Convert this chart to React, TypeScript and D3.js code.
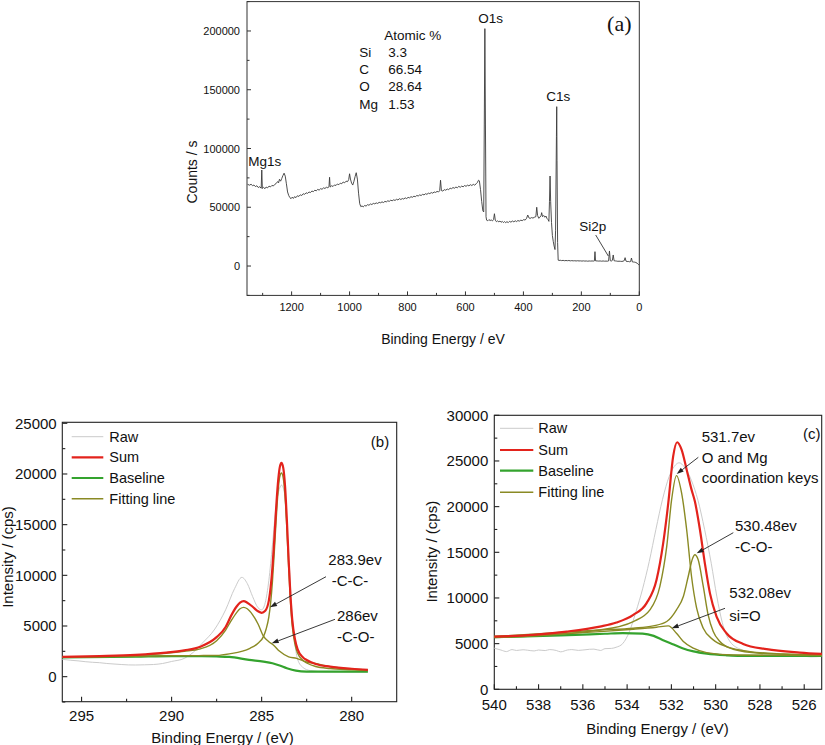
import React from 'react';
import * as d3 from 'd3';

type P = [number, number];

// ---------- Panel (a): survey spectrum ----------
const surveyXTicks = [1200, 1000, 800, 600, 400, 200, 0];
const surveyXMinor = [1300, 1100, 900, 700, 500, 300, 100];
const surveyYTicks = [0, 50000, 100000, 150000, 200000];
const surveyYMinor = [-25000, 25000, 75000, 125000, 175000, 225000];
const atomicElements = ['Si', 'C', 'O', 'Mg'];
const atomicValues = ['3.3', '66.54', '28.64', '1.53'];

const survey: P[] = [
  [1352, 69500], [1345, 68800], [1340, 69600], [1335, 68400], [1330, 68900], [1325, 67600], [1320, 68300],
  [1315, 66800], [1310, 67500], [1305, 66200], [1303, 81700], [1301, 66000], [1297, 66900], [1292, 65800],
  [1288, 67200], [1283, 66500], [1278, 68000], [1273, 67300], [1268, 68600], [1263, 68100], [1258, 69500],
  [1253, 70300], [1248, 71900], [1245, 70800], [1242, 73800], [1238, 72200], [1234, 74500], [1230, 77000],
  [1226, 79000], [1222, 76500], [1218, 70000], [1214, 63000], [1210, 60000], [1206, 58200], [1202, 57300],
  [1198, 58600], [1194, 57500], [1190, 59000], [1185, 58200], [1180, 59800], [1175, 59200], [1170, 60600],
  [1165, 60000], [1160, 61500], [1155, 61000], [1150, 62300], [1145, 61800], [1140, 63000], [1135, 62500],
  [1130, 63800], [1125, 63300], [1120, 64500], [1115, 64000], [1110, 65200], [1105, 64600], [1100, 65800],
  [1095, 65300], [1090, 66500], [1085, 66000], [1080, 67000], [1075, 66600], [1071, 67500], [1069, 75500],
  [1067, 67200], [1062, 68300], [1057, 67700], [1052, 69000], [1047, 68500], [1042, 69800], [1037, 69200],
  [1032, 70500], [1027, 70000], [1022, 71500], [1017, 70800], [1012, 72200], [1007, 71800], [1003, 73500],
  [1000, 78500], [997, 74000], [993, 70500], [989, 68900], [985, 72000], [981, 76000], [977, 79400],
  [973, 74000], [969, 62000], [965, 53000], [961, 50500], [957, 51200], [953, 50300], [948, 51500],
  [943, 51000], [938, 52200], [933, 51700], [928, 52800], [923, 52300], [918, 53300], [913, 52900],
  [908, 53700], [903, 53200], [898, 54200], [893, 53800], [888, 54600], [883, 54000], [878, 55000],
  [873, 54600], [868, 55500], [863, 55000], [858, 56000], [853, 55500], [848, 56300], [843, 55800],
  [838, 56800], [833, 56200], [828, 57300], [823, 56600], [818, 57400], [813, 57000], [808, 58000],
  [803, 57400], [798, 58400], [793, 58000], [788, 59000], [783, 58500], [778, 59400], [773, 59000],
  [768, 60000], [763, 59600], [758, 60500], [753, 60000], [748, 61000], [743, 60500], [738, 61500],
  [733, 61000], [728, 62000], [723, 61600], [718, 62500], [713, 62000], [708, 63000], [703, 62600],
  [698, 63500], [693, 63000], [689, 64000], [686, 73000], [683, 64200], [678, 63800], [673, 65000],
  [668, 64500], [663, 65500], [658, 65000], [653, 66200], [648, 65800], [643, 66800], [638, 66200],
  [633, 67200], [628, 66600], [623, 67800], [618, 67000], [613, 68000], [608, 67400], [603, 68500],
  [598, 67800], [593, 68800], [588, 68200], [583, 69200], [578, 68500], [573, 69500], [568, 68800],
  [563, 70000], [559, 71000], [555, 73000], [552, 72500], [548, 65000], [544, 55000], [540, 47000],
  [537, 46000], [535, 120000], [533, 202000], [531, 120000], [529, 42000], [527, 39000], [523, 38500],
  [519, 39500], [515, 38700], [511, 39200], [507, 38400], [503, 39500], [500, 44500], [497, 39000],
  [493, 37700], [489, 38500], [485, 37500], [481, 38300], [477, 37200], [473, 38000], [469, 37000],
  [465, 37800], [461, 36900], [457, 37700], [452, 37000], [448, 38000], [443, 37300], [438, 38300],
  [433, 37600], [428, 38500], [424, 37800], [419, 38700], [414, 38200], [409, 39000], [404, 38600],
  [399, 39500], [394, 39100], [389, 40600], [385, 43400], [381, 41000], [377, 40500], [372, 41200],
  [367, 40800], [362, 41500], [357, 42000], [354, 50000], [351, 43000], [347, 40600], [343, 41500],
  [339, 43000], [337, 45400], [334, 42000], [330, 43000], [326, 41500], [322, 42500], [319, 40600],
  [315, 39500], [312, 38000], [310, 55000], [308, 76600], [306, 55000], [303, 37000], [300, 26000],
  [297, 21000], [294, 17000], [291, 14000], [289, 30000], [286, 110000], [285, 135600], [284, 90000],
  [282, 20000], [280, 5000], [277, 4700], [273, 4900], [268, 4600], [263, 4800], [258, 4500],
  [253, 4700], [248, 4500], [243, 4700], [238, 4400], [233, 4600], [228, 4400], [223, 4500],
  [218, 4300], [213, 4500], [208, 4300], [203, 4400], [198, 4200], [193, 4400], [188, 4200],
  [183, 4300], [178, 4100], [173, 4300], [168, 4200], [163, 4300], [158, 4200], [155, 4400],
  [153, 12200], [151, 4400], [145, 4300], [140, 4200], [135, 4300], [130, 4100], [125, 4300],
  [120, 4100], [115, 4200], [110, 4100], [106, 4300], [103, 12800], [100, 4500], [97, 4200],
  [93, 4800], [90, 9400], [87, 4500], [82, 4300], [78, 4200], [74, 4000], [70, 4100], [65, 4000],
  [60, 3900], [56, 4100], [52, 4600], [49, 7100], [46, 4200], [42, 3800], [38, 3900], [34, 3600],
  [30, 3800], [27, 6800], [24, 3500], [20, 3400], [16, 3300], [12, 3000], [8, 2500], [4, 1500], [1, 850],
];

// ---------- Panel (b): C1s ----------
const c1sXTicks = [295, 290, 285, 280];
const c1sXMinor = [292.5, 287.5, 282.5];
const c1sYTicks = [0, 5000, 10000, 15000, 20000, 25000];
const c1sYMinor = [-2500, 2500, 7500, 12500, 17500, 22500];
const legendNames = ['Raw', 'Sum', 'Baseline', 'Fitting line'];

const c1sRaw: P[] = [
  [296.07, 1710], [295.6, 1620], [295.2, 1560], [294.8, 1480], [294.4, 1420], [294.0, 1380], [293.6, 1300],
  [293.2, 1250], [292.8, 1200], [292.4, 1160], [292.0, 1150], [291.5, 1170], [291.0, 1200], [290.5, 1300],
  [290.0, 1500], [289.3, 1800], [288.8, 2400], [288.3, 3300], [287.6, 4700], [287.0, 6600], [286.5, 8700],
  [286.1, 9800], [285.8, 9200], [285.5, 7900], [285.2, 6800], [285.0, 6600], [284.8, 7300], [284.6, 9500],
  [284.4, 13000], [284.2, 16800], [284.0, 18600], [283.9, 18900], [283.75, 18300], [283.6, 15000],
  [283.45, 10500], [283.3, 6000], [283.15, 3200], [283.0, 1700], [282.7, 900], [282.3, 600], [281.5, 480],
  [280.0, 460], [279.1, 470],
];
const c1sSum: P[] = [
  [296.07, 1950], [294.0, 2030], [292.0, 2150], [290.3, 2370], [289.3, 2600], [288.4, 2960], [287.5, 3900],
  [287.0, 4900], [286.7, 6000], [286.4, 6900], [286.2, 7300], [286.0, 7450], [285.8, 7300], [285.5, 6900],
  [285.2, 6450], [285.0, 6300], [284.8, 6500], [284.6, 7500], [284.5, 8800], [284.4, 10800], [284.3, 13500],
  [284.2, 16500], [284.1, 19000], [284.0, 20600], [283.9, 21100], [283.8, 20600], [283.7, 18800],
  [283.6, 15500], [283.5, 11500], [283.4, 8000], [283.3, 5600], [283.15, 3700], [283.0, 2700], [282.7, 1900],
  [282.5, 1650], [282.0, 1250], [281.2, 990], [280.0, 780], [279.1, 680],
];
const c1sBaseline: P[] = [
  [296.07, 1900], [292.0, 1980], [290.0, 2030], [288.5, 2020], [287.5, 1990], [286.8, 1950], [285.7, 1650],
  [284.9, 1480], [284.4, 1320], [284.0, 1100], [283.6, 830], [283.1, 590], [282.5, 500], [281.0, 490],
  [279.1, 490],
];
const c1sFit286: P[] = [
  [296.07, 1900], [294.0, 1980], [292.0, 2100], [290.3, 2300], [289.3, 2500], [288.4, 2750], [287.5, 3550],
  [287.0, 4600], [286.7, 5500], [286.4, 6300], [286.2, 6700], [286.0, 6840], [285.8, 6700], [285.5, 6100],
  [285.2, 5200], [284.9, 4000], [284.6, 3450], [284.35, 3130], [284.0, 2500], [283.5, 1950], [283.06, 1810],
  [282.5, 1450], [282.1, 1320], [281.2, 990], [280.0, 760], [279.1, 660],
];
const c1sFit2839: P[] = [
  [296.07, 1900], [292.0, 2010], [290.0, 2060], [288.5, 2080], [287.5, 2100], [286.8, 2250], [285.65, 2800],
  [285.2, 3300], [284.9, 3950], [284.75, 4700], [284.6, 5900], [284.5, 7300], [284.4, 9400], [284.3, 12200],
  [284.2, 15300], [284.1, 18000], [284.0, 19700], [283.9, 20100], [283.8, 19600], [283.7, 17800],
  [283.6, 14600], [283.5, 10800], [283.4, 7400], [283.3, 5000], [283.15, 3200], [283.0, 2300], [282.7, 1600],
  [282.5, 1350], [282.0, 1000], [281.2, 800], [280.0, 680], [279.1, 600],
];

// ---------- Panel (c): O1s ----------
const o1sXTicks = [540, 538, 536, 534, 532, 530, 528, 526];
const o1sXMinor = [539, 537, 535, 533, 531, 529, 527];
const o1sYTicks = [0, 5000, 10000, 15000, 20000, 25000, 30000];
const o1sYMinor = [2500, 7500, 12500, 17500, 22500, 27500];

const o1sRaw: P[] = [
  [540.0, 4500], [539.7, 4300], [539.45, 4130], [539.2, 4350], [539.0, 4250], [538.7, 4330], [538.5, 4280],
  [538.2, 4200], [538.0, 4300], [537.7, 4240], [537.5, 4350], [537.2, 4250], [537.0, 4100], [536.7, 4300],
  [536.5, 4350], [536.2, 4260], [536.0, 4300], [535.7, 4380], [535.5, 4400], [535.2, 4250], [535.0, 4450],
  [534.7, 4480], [534.5, 4600], [534.2, 5000], [533.9, 6300], [533.6, 8500], [533.3, 11000], [533.0, 14000],
  [532.7, 17500], [532.4, 20800], [532.1, 23300], [531.8, 24600], [531.65, 24800], [531.4, 24300],
  [531.1, 22900], [530.8, 20700], [530.5, 17500], [530.2, 13800], [529.95, 10200], [529.7, 7300],
  [529.4, 5400], [528.9, 4400], [528.2, 4000], [527.0, 3800], [526.2, 3680], [525.7, 3550], [525.2, 3600],
];
const o1sSum: P[] = [
  [540.0, 5775], [538.24, 5960], [536.73, 6320], [535.23, 6870], [534.48, 7310], [533.72, 8150],
  [533.12, 9430], [532.67, 11990], [532.37, 16000], [532.14, 20400], [531.92, 25500], [531.74, 27050],
  [531.54, 26240], [531.31, 24050], [531.09, 21860], [530.94, 20580], [530.71, 17470], [530.49, 13820],
  [530.26, 10530], [529.96, 7970], [529.51, 6140], [528.76, 4970], [527.7, 4390], [526.2, 4020],
  [525.2, 3870],
];
const o1sBaseline: P[] = [
  [540.0, 5700], [537.0, 5900], [535.0, 6080], [534.2, 6150], [533.3, 6100], [532.8, 5850], [532.4, 5400],
  [531.9, 4900], [531.5, 4500], [531.0, 4150], [530.4, 3900], [529.5, 3720], [528.9, 3660], [525.2, 3650],
];
const o1sFit5317: P[] = [
  [540.0, 5665], [535.23, 6500], [533.72, 7420], [532.97, 8700], [532.52, 11260], [532.21, 15640],
  [531.99, 20760], [531.77, 23400], [531.54, 21500], [531.31, 17470], [531.09, 12350], [530.86, 8880],
  [530.56, 6690], [530.11, 5410], [529.51, 4680], [528.45, 4130], [526.95, 3870], [525.2, 3760],
];
const o1sFit53048: P[] = [
  [540.0, 5775], [535.23, 6500], [533.72, 6690], [532.82, 6940], [532.21, 7420], [531.77, 8700],
  [531.46, 10160], [531.24, 12350], [531.04, 14360], [530.94, 14730], [530.79, 14180], [530.56, 11260],
  [530.34, 8150], [530.11, 6320], [529.81, 5230], [529.21, 4390], [528.0, 3950], [525.2, 3730],
];
const o1sFit53208: P[] = [
  [540.0, 5775], [535.23, 6320], [533.72, 6580], [532.67, 6800], [532.14, 6940], [531.77, 6140],
  [531.46, 5230], [531.01, 4500], [530.41, 4020], [529.21, 3760], [525.2, 3690],
];

// ---------- styles ----------
const SANS = 'Liberation Sans, Arial, Helvetica, sans-serif';
const SERIF = 'Liberation Serif, Times New Roman, serif';
const COL = { raw: '#cbcbcb', sum: '#e3231c', base: '#34a32e', fit: '#8a8a24' };

interface FrameProps {
  x: d3.ScaleLinear<number, number>;
  y: d3.ScaleLinear<number, number>;
  xMajor: number[]; xMinor: number[]; yMajor: number[]; yMinor: number[];
  fs: number; xLabelY: number; yLabelX: number; stroke: string; sw: number;
  majorLen: number; minorLen: number;
}

function Frame(p: FrameProps) {
  const [x0, x1] = p.x.range();
  const [yb, yt] = p.y.range();
  const fmt = d3.format('d');
  return (
    <g>
      <rect x={x0} y={yt} width={x1 - x0} height={yb - yt} fill="none" stroke={p.stroke} strokeWidth={p.sw} />
      {p.xMajor.map((t) => (
        <line key={'xm' + t} x1={p.x(t)} x2={p.x(t)} y1={yb} y2={yb - p.majorLen} stroke={p.stroke} strokeWidth={p.sw} />
      ))}
      {p.xMinor.map((t) => (
        <line key={'xn' + t} x1={p.x(t)} x2={p.x(t)} y1={yb} y2={yb - p.minorLen} stroke={p.stroke} strokeWidth={p.sw} />
      ))}
      {p.yMajor.map((t) => (
        <line key={'ym' + t} x1={x0} x2={x0 + p.majorLen} y1={p.y(t)} y2={p.y(t)} stroke={p.stroke} strokeWidth={p.sw} />
      ))}
      {p.yMinor.map((t) => (
        <line key={'yn' + t} x1={x0} x2={x0 + p.minorLen} y1={p.y(t)} y2={p.y(t)} stroke={p.stroke} strokeWidth={p.sw} />
      ))}
      {p.xMajor.map((t) => (
        <text key={'xl' + t} x={p.x(t)} y={p.xLabelY} textAnchor="middle" dominantBaseline="central"
          fontSize={p.fs} fontFamily={SANS} fill="#111">{fmt(t)}</text>
      ))}
      {p.yMajor.map((t) => (
        <text key={'yl' + t} x={p.yLabelX} y={p.y(t)} textAnchor="end" dominantBaseline="central"
          fontSize={p.fs} fontFamily={SANS} fill="#111">{fmt(t)}</text>
      ))}
    </g>
  );
}

function Arrow({ x1, y1, x2, y2 }: { x1: number; y1: number; x2: number; y2: number }) {
  const ang = Math.atan2(y2 - y1, x2 - x1);
  const L = 7, W = 2.4;
  const bx = x2 - L * Math.cos(ang), by = y2 - L * Math.sin(ang);
  const px = -Math.sin(ang) * W, py = Math.cos(ang) * W;
  return (
    <g>
      <line x1={x1} y1={y1} x2={bx} y2={by} stroke="#222" strokeWidth={0.9} />
      <path d={`M${x2},${y2}L${bx + px},${by + py}L${bx - px},${by - py}Z`} fill="#222" />
    </g>
  );
}

function Legend({ x1, x2, tx, ys, fs }: { x1: number; x2: number; tx: number; ys: number[]; fs: number }) {
  const cols = [COL.raw, COL.sum, COL.base, COL.fit];
  const widths = [1, 2.2, 2.2, 1.4];
  return (
    <g>
      {legendNames.map((n, i) => (
        <g key={n}>
          <line x1={x1} x2={x2} y1={ys[i]} y2={ys[i]} stroke={cols[i]} strokeWidth={widths[i]} />
          <text x={tx} y={ys[i]} dominantBaseline="central" fontSize={fs} fontFamily={SANS} fill="#111">{n}</text>
        </g>
      ))}
    </g>
  );
}

export default function App() {
  // Panel (a)
  const xa = d3.scaleLinear().domain([1354, 0]).range([247, 639.3]);
  const ya = d3.scaleLinear().domain([-25000, 225000]).range([295.4, 1.6]);
  const lineA = d3.line<P>().x((d) => xa(d[0])).y((d) => ya(d[1]));

  // Panel (b)
  const xb = d3.scaleLinear().domain([296.07, 277.5]).range([62.3, 396.7]);
  const yb = d3.scaleLinear().domain([-2470, 25100]).range([701.7, 422.3]);
  const lineB = d3.line<P>().x((d) => xb(d[0])).y((d) => yb(d[1])).curve(d3.curveMonotoneX);

  // Panel (c)
  const xc = d3.scaleLinear().domain([540, 525.21]).range([494.3, 821.7]);
  const yc = d3.scaleLinear().domain([0, 30000]).range([689.3, 415.3]);
  const lineC = d3.line<P>().x((d) => xc(d[0])).y((d) => yc(d[1])).curve(d3.curveMonotoneX);

  return (
    <svg width={825} height={745} style={{ position: 'absolute', left: 0, top: 0, background: '#fff' }}>
      {/* ---------- (a) ---------- */}
      <Frame x={xa} y={ya} xMajor={surveyXTicks} xMinor={surveyXMinor} yMajor={surveyYTicks} yMinor={surveyYMinor}
        fs={11} xLabelY={307} yLabelX={240} stroke="#333" sw={1} majorLen={4} minorLen={2.5} />
      <path d={lineA(survey) || ''} fill="none" stroke="#3a3a3a" strokeWidth={0.9} strokeLinejoin="round" />
      <text x={192} y={172} transform="rotate(-90 192 172)" textAnchor="middle" dominantBaseline="central"
        fontSize={14} fontFamily={SANS} fill="#111">Counts / s</text>
      <text x={443} y={339} textAnchor="middle" dominantBaseline="central" fontSize={14} fontFamily={SANS} fill="#111">
        Binding Energy / eV
      </text>
      <text x={384.3} y={35.5} dominantBaseline="central" fontSize={13.5} fontFamily={SANS} fill="#111">Atomic %</text>
      {atomicElements.map((e, i) => (
        <g key={e}>
          <text x={359.3} y={52.3 + i * 17.3} dominantBaseline="central" fontSize={13.5} fontFamily={SANS} fill="#111">{e}</text>
          <text x={388.3} y={52.3 + i * 17.3} dominantBaseline="central" fontSize={13.5} fontFamily={SANS} fill="#111">{atomicValues[i]}</text>
        </g>
      ))}
      <text x={490.7} y={18.3} textAnchor="middle" dominantBaseline="central" fontSize={13.5} fontFamily={SANS} fill="#111">O1s</text>
      <text x={558.3} y={96} textAnchor="middle" dominantBaseline="central" fontSize={13.5} fontFamily={SANS} fill="#111">C1s</text>
      <text x={248.3} y={161} dominantBaseline="central" fontSize={13.5} fontFamily={SANS} fill="#111">Mg1s</text>
      <text x={592.7} y={226.7} textAnchor="middle" dominantBaseline="central" fontSize={13.5} fontFamily={SANS} fill="#111">Si2p</text>
      <line x1={595.7} y1={235} x2={608.3} y2={256} stroke="#333" strokeWidth={0.9} />
      <text x={619.3} y={23} textAnchor="middle" dominantBaseline="central" fontSize={22} fontFamily={SERIF} fill="#111">(a)</text>

      {/* ---------- (b) ---------- */}
      <Frame x={xb} y={yb} xMajor={c1sXTicks} xMinor={c1sXMinor} yMajor={c1sYTicks} yMinor={c1sYMinor}
        fs={15} xLabelY={715} yLabelX={56.7} stroke="#222" sw={1.1} majorLen={5} minorLen={3} />
      <path d={lineB(c1sRaw) || ''} fill="none" stroke={COL.raw} strokeWidth={1} />
      <path d={lineB(c1sBaseline) || ''} fill="none" stroke={COL.base} strokeWidth={2.2} />
      <path d={lineB(c1sFit286) || ''} fill="none" stroke={COL.fit} strokeWidth={1.4} />
      <path d={lineB(c1sFit2839) || ''} fill="none" stroke={COL.fit} strokeWidth={1.4} />
      <path d={lineB(c1sSum) || ''} fill="none" stroke={COL.sum} strokeWidth={2.2} />
      <Legend x1={71.7} x2={103.3} tx={109.3} ys={[436.7, 457.3, 478, 498.7]} fs={14.5} />
      <text x={380} y={441.7} textAnchor="middle" dominantBaseline="central" fontSize={15} fontFamily={SANS} fill="#111">(b)</text>
      <text x={328.3} y={559} dominantBaseline="central" fontSize={15} fontFamily={SANS} fill="#111">283.9ev</text>
      <text x={331.7} y={580} dominantBaseline="central" fontSize={15} fontFamily={SANS} fill="#111">-C-C-</text>
      <text x={337} y={615} dominantBaseline="central" fontSize={15} fontFamily={SANS} fill="#111">286ev</text>
      <text x={337} y={636} dominantBaseline="central" fontSize={15} fontFamily={SANS} fill="#111">-C-O-</text>
      <Arrow x1={326} y1={576.7} x2={270} y2={607.3} />
      <Arrow x1={335} y1={619.3} x2={271.7} y2={643.3} />
      <text x={7.5} y={557} transform="rotate(-90 7.5 557)" textAnchor="middle" dominantBaseline="central"
        fontSize={15} fontFamily={SANS} fill="#111">Intensity / (cps)</text>
      <text x={222.5} y={737} textAnchor="middle" dominantBaseline="central" fontSize={15} fontFamily={SANS} fill="#111">
        Binding Energy / (eV)
      </text>

      {/* ---------- (c) ---------- */}
      <Frame x={xc} y={yc} xMajor={o1sXTicks} xMinor={o1sXMinor} yMajor={o1sYTicks} yMinor={o1sYMinor}
        fs={15} xLabelY={704.3} yLabelX={488.3} stroke="#222" sw={1.1} majorLen={5} minorLen={3} />
      <path d={lineC(o1sRaw) || ''} fill="none" stroke={COL.raw} strokeWidth={1} />
      <path d={lineC(o1sBaseline) || ''} fill="none" stroke={COL.base} strokeWidth={2.2} />
      <path d={lineC(o1sFit5317) || ''} fill="none" stroke={COL.fit} strokeWidth={1.4} />
      <path d={lineC(o1sFit53048) || ''} fill="none" stroke={COL.fit} strokeWidth={1.4} />
      <path d={lineC(o1sFit53208) || ''} fill="none" stroke={COL.fit} strokeWidth={1.4} />
      <path d={lineC(o1sSum) || ''} fill="none" stroke={COL.sum} strokeWidth={2.2} />
      <Legend x1={500} x2={533.3} tx={538.3} ys={[428.3, 450, 470.7, 492.3]} fs={14.5} />
      <text x={811.7} y={433.3} textAnchor="middle" dominantBaseline="central" fontSize={15} fontFamily={SANS} fill="#111">(c)</text>
      <text x={701.7} y={436} dominantBaseline="central" fontSize={15} fontFamily={SANS} fill="#111">531.7ev</text>
      <text x={701.7} y={457.3} dominantBaseline="central" fontSize={15} fontFamily={SANS} fill="#111">O and Mg</text>
      <text x={701.7} y={477.3} dominantBaseline="central" fontSize={15} fontFamily={SANS} fill="#111">coordination keys</text>
      <Arrow x1={698.3} y1={457.3} x2={676.7} y2={474} />
      <text x={735} y={525} dominantBaseline="central" fontSize={15} fontFamily={SANS} fill="#111">530.48ev</text>
      <text x={735} y={546.7} dominantBaseline="central" fontSize={15} fontFamily={SANS} fill="#111">-C-O-</text>
      <Arrow x1={733.3} y1={532.7} x2={696.7} y2={553.3} />
      <text x={729.3} y={592.7} dominantBaseline="central" fontSize={15} fontFamily={SANS} fill="#111">532.08ev</text>
      <text x={729.3} y={615} dominantBaseline="central" fontSize={15} fontFamily={SANS} fill="#111">si=O</text>
      <Arrow x1={725} y1={608.3} x2={671.7} y2={628.3} />
      <text x={431.7} y={551.7} transform="rotate(-90 431.7 551.7)" textAnchor="middle" dominantBaseline="central"
        fontSize={15} fontFamily={SANS} fill="#111">Intensity / (cps)</text>
      <text x={657.5} y={728} textAnchor="middle" dominantBaseline="central" fontSize={15} fontFamily={SANS} fill="#111">
        Binding Energy / (eV)
      </text>
    </svg>
  );
}
